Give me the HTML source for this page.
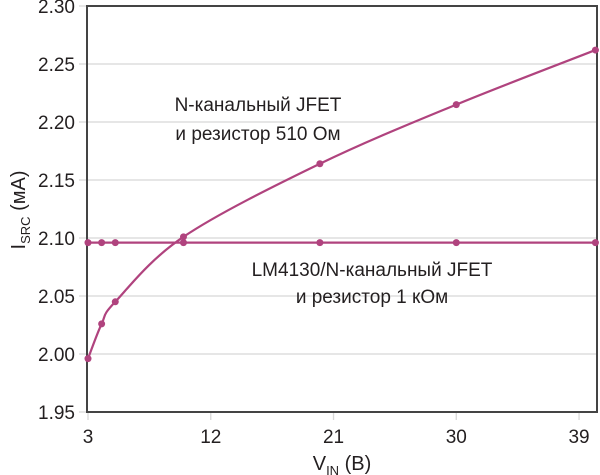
<!DOCTYPE html>
<html><head><meta charset="utf-8"><style>
body{margin:0;background:#fff}
svg{display:block;font-family:"Liberation Sans",sans-serif}
</style></head><body>
<svg id="c" width="600" height="475" viewBox="0 0 600 475"></svg>
<script>
const xTicks=[3,12,21,30,39];
const yTicks=[1.95,2.00,2.05,2.10,2.15,2.20,2.25,2.30];
const jfetX=[3,4,5,10,20,30,40.2];
const jfetY=[1.996,2.026,2.045,2.101,2.164,2.215,2.262];
const lmX=[3,4,5,10,20,30,40.2];
const lmY=[2.096,2.096,2.096,2.096,2.096,2.096,2.096];
const L=87,R=597,T=6,B=412;
const sx=v=>88+(v-3)*13.64;
const sy=v=>B-(v-1.95)/0.35*(B-T);
const svg=document.getElementById('c');
const NS='http://www.w3.org/2000/svg';
function mk(t,a,p){const e=document.createElementNS(NS,t);for(const k in a)e.setAttribute(k,a[k]);(p||svg).appendChild(e);return e;}
const col='#b0437e';
yTicks.forEach(v=>{
 const g=mk('line',{x1:L-8,x2:R,y1:sy(v),y2:sy(v),stroke:'#d8d8d8','stroke-width':1.3});
 
 
 const t=mk('text',{x:L-12,y:sy(v)+7,'text-anchor':'end','font-size':19,fill:'#231f20'});
 t.textContent=v.toFixed(2);
 
 
});
xTicks.forEach(v=>{
 const g=mk('line',{x1:sx(v),x2:sx(v),y1:B,y2:B+8,stroke:'#d8d8d8','stroke-width':1.3});
 
 
 const t=mk('text',{x:sx(v),y:B+31,'text-anchor':'middle','font-size':19,fill:'#231f20'});
 t.textContent=v;
 
 
});
const fr=mk('rect',{x:L,y:T,width:R-L,height:B-T,fill:'none',stroke:'#444','stroke-width':2});


function smooth(xs,ys){
 const p=xs.map((x,i)=>[sx(x),sy(ys[i])]);
 let d='M'+p[0][0]+','+p[0][1];
 for(let i=0;i<p.length-1;i++){
  const p0=p[i-1]||p[i],p1=p[i],p2=p[i+1],p3=p[i+2]||p2;
  const c1=[p1[0]+(p2[0]-p0[0])/6,p1[1]+(p2[1]-p0[1])/6];
  const c2=[p2[0]-(p3[0]-p1[0])/6,p2[1]-(p3[1]-p1[1])/6];
  d+=' C'+c1+' '+c2+' '+p2;
 }
 return d;
}
function series(xs,ys,name){
 const pa=mk('path',{d:smooth(xs,ys),fill:'none',stroke:col,'stroke-width':2.2});
 
 
 xs.forEach((x,i)=>{
  const c=mk('circle',{cx:sx(x),cy:sy(ys[i]),r:3.5,fill:col});
  
  
 });
}
series(lmX,lmY,'lm4130-series');
series(jfetX,jfetY,'jfet-series');
function label(x,y,s,n){const t=mk('text',{x:x,y:y,'text-anchor':'middle','font-size':19,fill:'#231f20'});t.textContent=s;}
label(258,111,'N-канальный JFET','jfet-label-line1');
label(258,140,'и резистор 510 Ом','jfet-label-line2');
label(372,276,'LM4130/N-канальный JFET','lm4130-label-line1');
label(372,303,'и резистор 1 кОм','lm4130-label-line2');
const xt=mk('text',{x:342,y:470,'text-anchor':'middle','font-size':20,fill:'#231f20'});
xt.innerHTML='V<tspan font-size="13" dy="5">IN</tspan><tspan dy="-5"> (В)</tspan>';


const yt=mk('text',{x:0,y:0,'text-anchor':'middle','font-size':20,fill:'#231f20',transform:'translate(25,210) rotate(-90)'});
yt.innerHTML='I<tspan font-size="13" dy="5">SRC</tspan><tspan dy="-5"> (мА)</tspan>';


</script>
</body></html>
